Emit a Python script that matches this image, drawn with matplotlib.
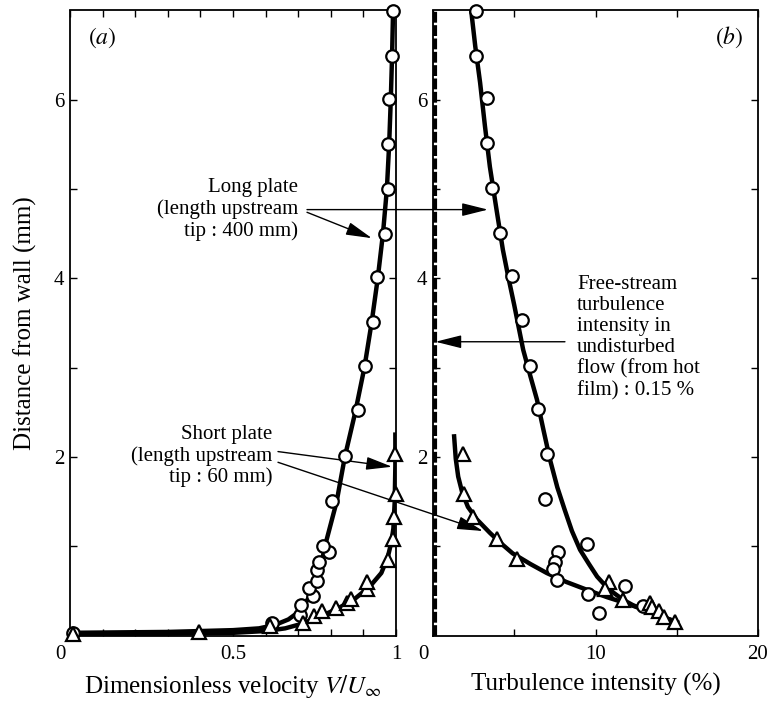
import matplotlib
matplotlib.use("Agg")
import matplotlib.pyplot as plt
from matplotlib.transforms import ScaledTranslation

plt.rcParams['font.family'] = ['Liberation Serif', 'DejaVu Serif']
plt.rcParams['mathtext.fontset'] = 'stix'

# (a) velocity profiles, long plate (circles)
va_long = [0.01, 0.62, 0.705, 0.71, 0.744, 0.733, 0.759, 0.759, 0.764, 0.795,
           0.776, 0.805, 0.843, 0.882, 0.906, 0.928, 0.942, 0.966, 0.975,
           0.975, 0.979, 0.988, 0.991]
ya_long = [0.03, 0.14, 0.23, 0.34, 0.44, 0.53, 0.61, 0.73, 0.82, 0.94, 1.00,
           1.51, 2.01, 2.53, 3.02, 3.51, 4.02, 4.50, 5.00, 5.51, 6.01, 6.49, 7.0]
# (a) short plate (triangles)
va_short = [0.01, 0.397, 0.615, 0.716, 0.747, 0.772, 0.815, 0.851, 0.862, 0.91,
            0.91, 0.975, 0.99, 0.995, 1.0, 0.997]
ya_short = [0.02, 0.04, 0.11, 0.14, 0.22, 0.27, 0.31, 0.36, 0.41, 0.52, 0.60,
            0.85, 1.08, 1.33, 1.59, 2.03]
# (a) fitted curves
va_long_fit = [0.0, 0.3, 0.5, 0.58, 0.63, 0.67, 0.7, 0.72, 0.74, 0.755, 0.77,
               0.782, 0.8, 0.818, 0.843, 0.875, 0.903, 0.925, 0.944, 0.96,
               0.972, 0.979, 0.984, 0.988, 0.991]
ya_long_fit = [0.03, 0.04, 0.06, 0.08, 0.12, 0.18, 0.26, 0.35, 0.47, 0.6, 0.78,
               1.0, 1.25, 1.5, 2.0, 2.5, 3.0, 3.5, 4.0, 4.5, 5.0, 5.5, 6.0,
               6.5, 7.0]
va_short_fit = [0.0, 0.3, 0.5, 0.6, 0.66, 0.7, 0.76, 0.82, 0.87, 0.92, 0.955,
                0.975, 0.986, 0.992, 0.996, 0.998, 0.998]
ya_short_fit = [0.01, 0.02, 0.03, 0.05, 0.08, 0.12, 0.2, 0.3, 0.4, 0.55, 0.7,
                0.88, 1.05, 1.2, 1.5, 1.9, 2.25]

# (b) turbulence intensity (%)
tb_long = [2.65, 2.65, 3.3, 3.3, 3.6, 4.1, 4.85, 5.5, 5.97, 6.48, 7.0, 6.9, 9.5,
           7.7, 7.5, 7.4, 7.6, 9.55, 11.8, 10.2, 12.9]
yb_long = [7.0, 6.49, 6.02, 5.52, 5.01, 4.51, 4.03, 3.53, 3.02, 2.54, 2.03, 1.53,
           1.03, 0.94, 0.82, 0.75, 0.62, 0.46, 0.55, 0.25, 0.33]
tb_short = [1.85, 1.9, 2.46, 3.94, 5.15, 10.8, 10.6, 11.7, 13.35, 13.5, 13.9,
            14.2, 14.9]
yb_short = [2.03, 1.59, 1.33, 1.08, 0.86, 0.60, 0.52, 0.40, 0.36, 0.32, 0.27,
            0.21, 0.15]
tb_long_fit = [2.35, 2.6, 2.9, 3.2, 3.5, 3.9, 4.3, 4.65, 5.0, 5.55, 6.0, 6.4,
               6.8, 7.2, 7.65, 8.1, 8.55, 9.05, 9.6, 10.1, 10.6, 11.1, 11.7,
               12.3, 13.5, 15.0]
yb_long_fit = [7.0, 6.6, 6.19, 5.7, 5.25, 4.78, 4.32, 4.0, 3.7, 3.2, 2.9, 2.64,
               2.3, 1.97, 1.66, 1.41, 1.17, 0.96, 0.8, 0.66, 0.56, 0.48, 0.40,
               0.34, 0.25, 0.15]
tb_short_fit = [1.3, 1.4, 1.55, 1.8, 2.15, 2.7, 3.5, 4.2, 4.9, 6.0, 7.0, 8.2,
                9.5, 10.7, 11.9, 13.4, 15.0]
yb_short_fit = [2.23, 1.98, 1.78, 1.6, 1.44, 1.3, 1.15, 1.03, 0.92, 0.8, 0.70,
                0.6, 0.51, 0.43, 0.36, 0.26, 0.15]
free_stream = 0.15

fig = plt.figure(figsize=(7.7, 7.01), dpi=100)
ax1 = fig.add_axes([70 / 770, 65.5 / 701, 326 / 770, 625 / 701])
ax2 = fig.add_axes([433 / 770, 65.5 / 701, 325 / 770, 625 / 701])

mk = dict(markerfacecolor='white', markeredgecolor='black', markeredgewidth=1.6,
          linestyle='none', zorder=5, clip_on=False)

ax1.plot(va_long_fit, ya_long_fit, color='black', lw=3.2, zorder=3)
ax1.plot(va_short_fit, ya_short_fit, color='black', lw=3.2, zorder=3)
ax1.plot(va_long, ya_long, marker='o', markersize=9, **mk)
ax1.plot(va_short, ya_short, marker='^', markersize=10, **mk)

ax2.plot(tb_long_fit, yb_long_fit, color='black', lw=3.2, zorder=3)
ax2.plot(tb_short_fit, yb_short_fit, color='black', lw=3.2, zorder=3)
ax2.plot(tb_long, yb_long, marker='o', markersize=9, **mk)
ax2.plot(tb_short, yb_short, marker='^', markersize=10, **mk)
ax2.axvline(free_stream, color='black', lw=3, linestyle=(0, (2.6, 0.6)), zorder=4)

ax1.set_xlim(0, 1)
ax2.set_xlim(0, 20)
for ax in (ax1, ax2):
    ax.set_ylim(0, 7)
    ax.set_yticks([2, 4, 6])
    ax.set_yticks([1, 3, 5], minor=True)
    ax.tick_params(which='both', direction='in', top=True, right=True,
                   length=5, width=1, labelsize=15)
    ax.tick_params(axis='x', pad=7)
    ax.tick_params(axis='y', pad=4)
    for s in ax.spines.values():
        s.set_linewidth(1.3)

ax1.set_xticks([0, 0.5, 1])
ax1.set_xticklabels(['0', '0.5', '1'])
ax1.set_xticks([0.1, 0.2, 0.3, 0.4, 0.6, 0.7, 0.8, 0.9], minor=True)
ax2.set_xticks([0, 10, 20])
ax2.set_xticklabels(['0', '10', '20'])
ax2.set_xticks([5, 15], minor=True)

# nudge the "0" labels left, as in the original
shift = ScaledTranslation(-0.1, 0, fig.dpi_scale_trans)
for ax in (ax1, ax2):
    lab = ax.xaxis.get_major_ticks()[0].label1
    lab.set_transform(lab.get_transform() + shift)

ax1.set_xlabel(r'Dimensionless velocity $V/U_\infty$', fontsize=18, labelpad=6)
ax2.set_xlabel('Turbulence intensity (%)', fontsize=18, labelpad=6)
ax1.set_ylabel('Distance from wall (mm)', fontsize=18, labelpad=12)

ax1.text(0.1, 6.7, r'$(a)$', fontsize=17, ha='center', va='center')
ax2.text(18.2, 6.7, r'$(b)$', fontsize=17, ha='center', va='center')

txt = dict(fontsize=15, linespacing=1.15, va='center')
ax1.text(0.70, 4.77, 'Long plate\n(length upstream\ntip : 400 mm)', ha='right',
         multialignment='right', **txt)
ax1.text(0.62, 2.01, 'Short plate\n(length upstream\ntip : 60 mm)', ha='right',
         multialignment='right', **txt)
ax2.text(8.86, 3.34, 'Free-stream\nturbulence\nintensity in\nundisturbed\n'
         'flow (from hot\nfilm) : 0.15 %', ha='left', multialignment='left', **txt)

ap = dict(arrowstyle='-|>,head_length=0.8,head_width=0.2', color='black',
          lw=1, shrinkA=0, shrinkB=0, mutation_scale=20)
ax1.annotate('', xy=(0.926, 4.45), xytext=(0.727, 4.74), arrowprops=ap,
             annotation_clip=False)
ax2.annotate('', xy=(3.38, 4.77), xytext=(0.727, 4.77), textcoords=ax1.transData,
             arrowprops=ap, annotation_clip=False)
ax1.annotate('', xy=(0.988, 1.89), xytext=(0.638, 2.06), arrowprops=ap,
             annotation_clip=False)
ax2.annotate('', xy=(3.08, 1.17), xytext=(0.638, 1.94), textcoords=ax1.transData,
             arrowprops=ap, annotation_clip=False)
ax2.annotate('', xy=(free_stream, 3.29), xytext=(8.12, 3.29), arrowprops=ap,
             annotation_clip=False)

fig.savefig('out.png', dpi=100)
